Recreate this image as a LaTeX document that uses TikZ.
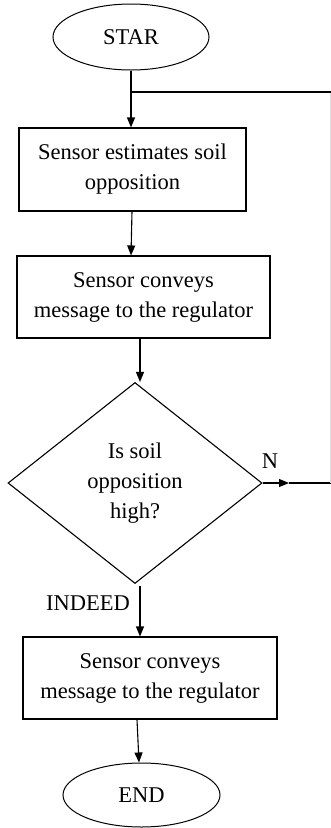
\documentclass[tikz,border=0pt]{standalone}
\usepackage{fontspec}
\setmainfont{Liberation Serif}
\usetikzlibrary{shapes.geometric,arrows.meta,calc}
\tikzset{
  txt/.style={font=\fontsize{22.5}{30}\selectfont, align=center, inner sep=0pt},
  term/.style={txt, ellipse, draw, line width=1pt},
  procbox/.style={txt, rectangle, draw, line width=1.1pt},
  decbox/.style={txt, diamond, draw, line width=1.1pt},
  arr/.style={line width=1.1pt, -{Triangle[length=10pt,width=8pt]}},
  conn/.style={line width=1.1pt},
  faint/.style={line width=0.7pt, draw=black!12},
}
\begin{document}
\begin{tikzpicture}[x=1pt,y=-1pt]
\useasboundingbox (0,0) rectangle (331,828);
\node[term, minimum width=156pt, minimum height=66pt] (start) at (131,37) {STAR};
\node[procbox, minimum width=227pt, minimum height=83pt] (b1) at (132.5,169.5) {Sensor estimates soil\\opposition};
\node[procbox, minimum width=253pt, minimum height=82pt] (b2) at (143.5,297) {Sensor conveys\\message to the regulator};
\node[decbox, minimum width=254pt, minimum height=201pt] (dec) at (135,483) {Is soil\\opposition\\high?};
\node[procbox, minimum width=254pt, minimum height=82pt] (b3) at (150,678) {Sensor conveys\\message to the regulator};
\node[term, minimum width=157pt, minimum height=64pt] (end) at (141.5,795) {END};
\node[txt] (yes) at (88,603) {INDEED};
\node[txt] (no) at (270,461) {N};

\coordinate (nt) at (289,483);
\coordinate (r1) at (330.5,483);
\coordinate (r2) at (330.5,92);
\coordinate (j) at (start.south |- r2);

\draw[arr] (start.south) -- (start.south |- b1.north);
\draw[arr] ([xshift=-0.5pt]b1.south) -- ([xshift=-1.5pt]b1.south |- b2.north);
\draw[arr] ([xshift=-3.5pt]b2.south) -- ([xshift=-3.5pt]b2.south |- dec.north);
\draw[arr] ([xshift=5pt,yshift=-2pt]dec.south) -- ([xshift=5pt]dec.south |- b3.north);
\draw[arr] ([xshift=-13pt]b3.south) -- ([xshift=-11pt]b3.south |- end.north);
\draw[arr] (dec.east) -- (nt);
\draw[conn] (nt) -- (r1);
\draw[faint] (r1) -- (r2);
\draw[conn] (r2) -- (j);
\end{tikzpicture}
\end{document}
